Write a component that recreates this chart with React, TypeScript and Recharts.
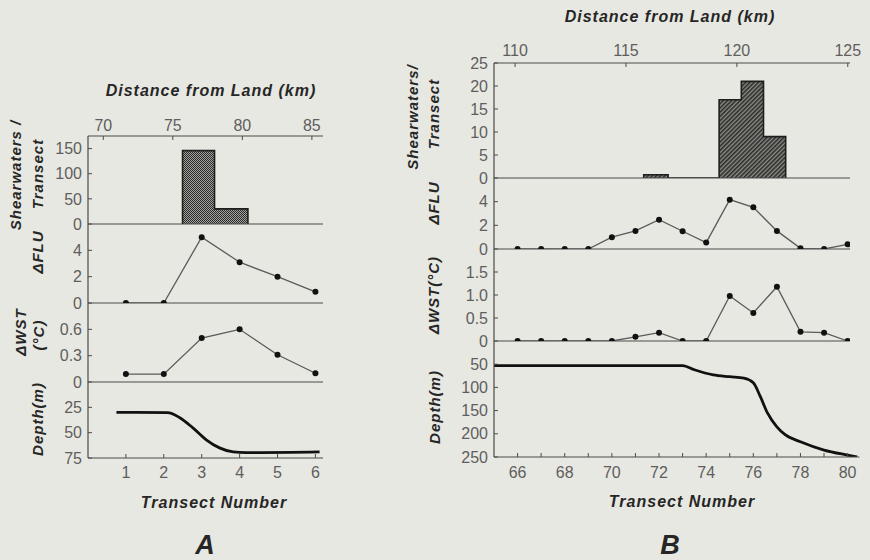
import React from "react"
import { Area, ComposedChart, Line, ReferenceLine, XAxis, YAxis } from "recharts"

// ---- panel A (transects 1-6, 70-85 km offshore) ----
const transectsA = [1, 2, 3, 4, 5, 6]
const fluA = [0, 0, 5.0, 3.1, 2.0, 0.85]
const wstA = [0.09, 0.09, 0.5, 0.6, 0.31, 0.1]
const binStartA = [75.7, 78.0]
const binEndA = [78.0, 80.4]
const shearA = [146, 30]
const depthTA = [0.75, 2.1, 2.41, 2.76, 3.12, 3.47, 3.83, 4.18, 6.11]
const depthA = [30, 30.3, 35, 45, 57, 65, 69, 69.7, 69]
const kmTicksA = [70, 75, 80, 85]
const shearTicksA = [0, 50, 100, 150]
const fluTicksA = [0, 2, 4]
const wstTicksA = [0, 0.3, 0.6]
const depthTicksA = [25, 50, 75]

// ---- panel B (transects 66-80, 110-125 km offshore) ----
const transectsB = [66, 67, 68, 69, 70, 71, 72, 73, 74, 75, 76, 77, 78, 79, 80]
const fluB = [0, 0, 0, 0, 1.0, 1.53, 2.47, 1.5, 0.54, 4.17, 3.52, 1.53, 0.06, 0, 0.4]
const wstB = [0, 0, 0, 0, 0, 0.09, 0.18, 0, 0, 0.98, 0.61, 1.18, 0.2, 0.18, 0]
const binStartB = [115.8, 119.2, 120.2, 121.2]
const binEndB = [116.9, 120.2, 121.2, 122.2]
const shearB = [0.7, 17, 21, 9]
const depthTB = [65, 73, 73.5, 74.3, 75, 75.6, 76, 76.3, 76.6, 77, 77.35, 78, 79, 80, 80.4]
const depthB = [53, 53, 62, 73, 77, 80, 90, 120, 155, 185, 202, 217, 235, 246, 250]
const kmTicksB = [110, 115, 120, 125]
const shearTicksB = [0, 5, 10, 15, 20, 25]
const fluTicksB = [0, 2, 4]
const wstTicksB = [0, 0.5, 1.0, 1.5]
const depthTicksB = [50, 100, 150, 200, 250]

const FONT = "'Liberation Sans', Arial, Helvetica, sans-serif"
const BG = "#e8e8e2"
const INK = "#262626"
const TICK_INK = "#5e5e5e"
const AXIS = "#4a4a4a"

// outline of a histogram as a step series (drops to 0 between separated bins)
function histOutline(starts: number[], ends: number[], counts: number[]) {
  const pts: { km: number; n: number }[] = []
  starts.forEach((s, i) => {
    const prevEnd = i > 0 ? ends[i - 1] : null
    if (prevEnd === null || Math.abs(prevEnd - s) > 0.01) {
      if (prevEnd !== null) pts.push({ km: prevEnd, n: 0 })
      pts.push({ km: s, n: 0 })
    }
    pts.push({ km: s, n: counts[i] })
  })
  const last = ends[ends.length - 1]
  pts.push({ km: last, n: counts[counts.length - 1] })
  pts.push({ km: last, n: 0 })
  return pts
}

const zip = (xs: number[], ys: number[]) => xs.map((t, i) => ({ t, v: ys[i] }))

const tickStyle = { fill: TICK_INK, fontSize: 16, fontFamily: FONT }
const axisLine = { stroke: AXIS, strokeWidth: 1.2 }
const wstFmt = (v: number) => (v === 0 ? "0" : v.toFixed(1))

function yAxis(domain: number[], ticks: number[], opts: any = {}) {
  return (
    <YAxis
      type="number"
      domain={domain}
      ticks={ticks}
      interval={0}
      width={48}
      tickSize={-4}
      tickMargin={10}
      tick={tickStyle}
      tickLine={{ stroke: AXIS }}
      axisLine={axisLine}
      allowDataOverflow
      {...opts}
    />
  )
}

// one stacked strip; `top` is where the svg starts, plotBottom where its plot area ends
function Strip({ left, top, plotBottom, plotRight, pad = 10, bottomAxis = 0, data, children }: any) {
  const height = plotBottom - top + pad + bottomAxis
  return (
    <div style={{ position: "absolute", left, top }}>
      <ComposedChart
        width={plotRight - left + 12}
        height={height}
        data={data}
        margin={{ top: 0, right: 12, bottom: pad, left: 0 }}
      >
        {children}
      </ComposedChart>
    </div>
  )
}

function Label({ x, y, text, rotate = false, size = 15, spacing = 1 }: any) {
  return (
    <div
      style={{
        position: "absolute",
        left: x,
        top: y,
        transform: `translate(-50%, -50%)${rotate ? " rotate(-90deg)" : ""}`,
        whiteSpace: "nowrap",
        fontFamily: FONT,
        fontWeight: 700,
        fontStyle: "italic",
        fontSize: size,
        letterSpacing: spacing,
        lineHeight: 1,
        color: INK,
      }}
    >
      {text}
    </div>
  )
}

function Defs() {
  return (
    <defs>
      <pattern id="checkA" width="2" height="2" patternUnits="userSpaceOnUse">
        <rect width="2" height="2" fill="#a2a29c" />
        <rect width="1" height="1" fill="#2c2c2c" />
        <rect x="1" y="1" width="1" height="1" fill="#2c2c2c" />
      </pattern>
      <pattern id="hatchB" width="3" height="3" patternUnits="userSpaceOnUse" patternTransform="rotate(45)">
        <rect width="3" height="3" fill="#8e8e88" />
        <rect width="1.6" height="3" fill="#2a2a2a" />
      </pattern>
    </defs>
  )
}

const dot = { r: 3, fill: "#111", stroke: "none" }

export default function App() {
  // panel A geometry
  const aL = 40
  const aR = 323
  const tA = [0, 6.2]
  // panel B geometry
  const bL = 446
  const bR = 850
  const tB = [65, 80.1]

  return (
    <div style={{ position: "absolute", left: 0, top: 0, width: 870, height: 560, background: BG, overflow: "hidden" }}>
      {/* ---------- A ---------- */}
      <Strip left={aL} top={106} plotBottom={224} plotRight={aR} data={histOutline(binStartA, binEndA, shearA)}>
        <Defs />
        <XAxis
          dataKey="km"
          type="number"
          orientation="top"
          domain={[68.9, 85.8]}
          ticks={kmTicksA}
          interval={0}
          height={30}
          tickSize={-4}
          tickMargin={9}
          tick={tickStyle}
          tickLine={{ stroke: AXIS }}
          axisLine={axisLine}
          allowDataOverflow
        />
        {yAxis([0, 175], shearTicksA)}
        <ReferenceLine y={0} stroke={AXIS} strokeWidth={1.2} />
        <Area dataKey="n" type="stepAfter" stroke="#1e1e1e" strokeWidth={1.6} fill="url(#checkA)" fillOpacity={1} isAnimationActive={false} />
      </Strip>
      <Strip left={aL} top={224} plotBottom={303} plotRight={aR} data={zip(transectsA, fluA)}>
        <XAxis dataKey="t" type="number" domain={tA} hide allowDataOverflow />
        {yAxis([0, 6], fluTicksA)}
        <ReferenceLine y={0} stroke={AXIS} strokeWidth={1.2} />
        <Line dataKey="v" type="linear" stroke="#5a5a5a" strokeWidth={1.3} dot={dot} isAnimationActive={false} />
      </Strip>
      <Strip left={aL} top={303} plotBottom={382} plotRight={aR} data={zip(transectsA, wstA)}>
        <XAxis dataKey="t" type="number" domain={tA} hide allowDataOverflow />
        {yAxis([0, 0.9], wstTicksA)}
        <ReferenceLine y={0} stroke={AXIS} strokeWidth={1.2} />
        <Line dataKey="v" type="linear" stroke="#5a5a5a" strokeWidth={1.3} dot={dot} isAnimationActive={false} />
      </Strip>
      <Strip left={aL} top={382} plotBottom={458} plotRight={aR} pad={0} bottomAxis={30} data={zip(depthTA, depthA)}>
        <XAxis
          dataKey="t"
          type="number"
          domain={tA}
          ticks={transectsA}
          interval={0}
          height={30}
          tickSize={-4}
          tickMargin={13}
          tick={tickStyle}
          tickLine={{ stroke: AXIS }}
          axisLine={axisLine}
          allowDataOverflow
        />
        {yAxis([0, 75], depthTicksA, { reversed: true })}
        <Line dataKey="v" type="monotone" stroke="#111" strokeWidth={2.8} dot={false} isAnimationActive={false} />
      </Strip>

      {/* ---------- B ---------- */}
      <Strip left={bL} top={33} plotBottom={178} plotRight={bR} data={histOutline(binStartB, binEndB, shearB)}>
        <Defs />
        <XAxis
          dataKey="km"
          type="number"
          orientation="top"
          domain={[109.05, 125.1]}
          ticks={kmTicksB}
          interval={0}
          height={30}
          tickSize={-4}
          tickMargin={11}
          tick={tickStyle}
          tickLine={{ stroke: AXIS }}
          axisLine={axisLine}
          allowDataOverflow
        />
        {yAxis([0, 25], shearTicksB)}
        <ReferenceLine y={0} stroke={AXIS} strokeWidth={1.2} />
        <Area dataKey="n" type="stepAfter" stroke="#1e1e1e" strokeWidth={1.6} fill="url(#hatchB)" fillOpacity={1} isAnimationActive={false} />
      </Strip>
      <Strip left={bL} top={178} plotBottom={249} plotRight={bR} data={zip(transectsB, fluB)}>
        <XAxis dataKey="t" type="number" domain={tB} hide allowDataOverflow />
        {yAxis([0, 6], fluTicksB)}
        <ReferenceLine y={0} stroke={AXIS} strokeWidth={1.2} />
        <Line dataKey="v" type="linear" stroke="#5a5a5a" strokeWidth={1.3} dot={dot} isAnimationActive={false} />
      </Strip>
      <Strip left={bL} top={249} plotBottom={341} plotRight={bR} data={zip(transectsB, wstB)}>
        <XAxis dataKey="t" type="number" domain={tB} hide allowDataOverflow />
        {yAxis([0, 2], wstTicksB, { tickFormatter: wstFmt })}
        <ReferenceLine y={0} stroke={AXIS} strokeWidth={1.2} />
        <Line dataKey="v" type="linear" stroke="#5a5a5a" strokeWidth={1.3} dot={dot} isAnimationActive={false} />
      </Strip>
      {/* bottom axis of B runs a little past the other strips, same scale */}
      <Strip left={bL} top={341} plotBottom={457} plotRight={859.4} pad={0} bottomAxis={30} data={zip(depthTB, depthB)}>
        <XAxis
          dataKey="t"
          type="number"
          domain={[65, 80.5]}
          ticks={transectsB}
          interval={0}
          height={30}
          tickSize={-4}
          tickMargin={14}
          tick={tickStyle}
          tickLine={{ stroke: AXIS }}
          tickFormatter={(v: number) => (v % 2 === 0 ? String(v) : "")}
          axisLine={axisLine}
          allowDataOverflow
        />
        {yAxis([0, 250], depthTicksB, { reversed: true })}
        <Line dataKey="v" type="monotone" stroke="#111" strokeWidth={2.8} dot={false} isAnimationActive={false} />
      </Strip>

      {/* titles */}
      <Label x={211} y={91} text="Distance from Land (km)" size={16} />
      <Label x={214} y={503} text="Transect Number" size={16} />
      <Label x={205} y={545} text="A" size={27} spacing={0} />
      <Label x={670} y={17} text="Distance from Land (km)" size={16} />
      <Label x={682} y={502} text="Transect Number" size={16} />
      <Label x={670} y={545} text="B" size={27} spacing={0} />

      {/* y labels A */}
      <Label x={15} y={175} text="Shearwaters /" rotate />
      <Label x={37} y={174} text="Transect" rotate />
      <Label x={37} y={252} text="ΔFLU" rotate />
      <Label x={20} y={332} text="ΔWST" rotate />
      <Label x={38} y={335} text="(°C)" rotate />
      <Label x={37} y={419} text="Depth(m)" rotate />

      {/* y labels B */}
      <Label x={412} y={117} text="Shearwaters/" rotate />
      <Label x={433} y={114} text="Transect" rotate />
      <Label x={433} y={203} text="ΔFLU" rotate />
      <Label x={433} y={295} text="ΔWST(°C)" rotate />
      <Label x={434} y={407} text="Depth(m)" rotate />
    </div>
  )
}
